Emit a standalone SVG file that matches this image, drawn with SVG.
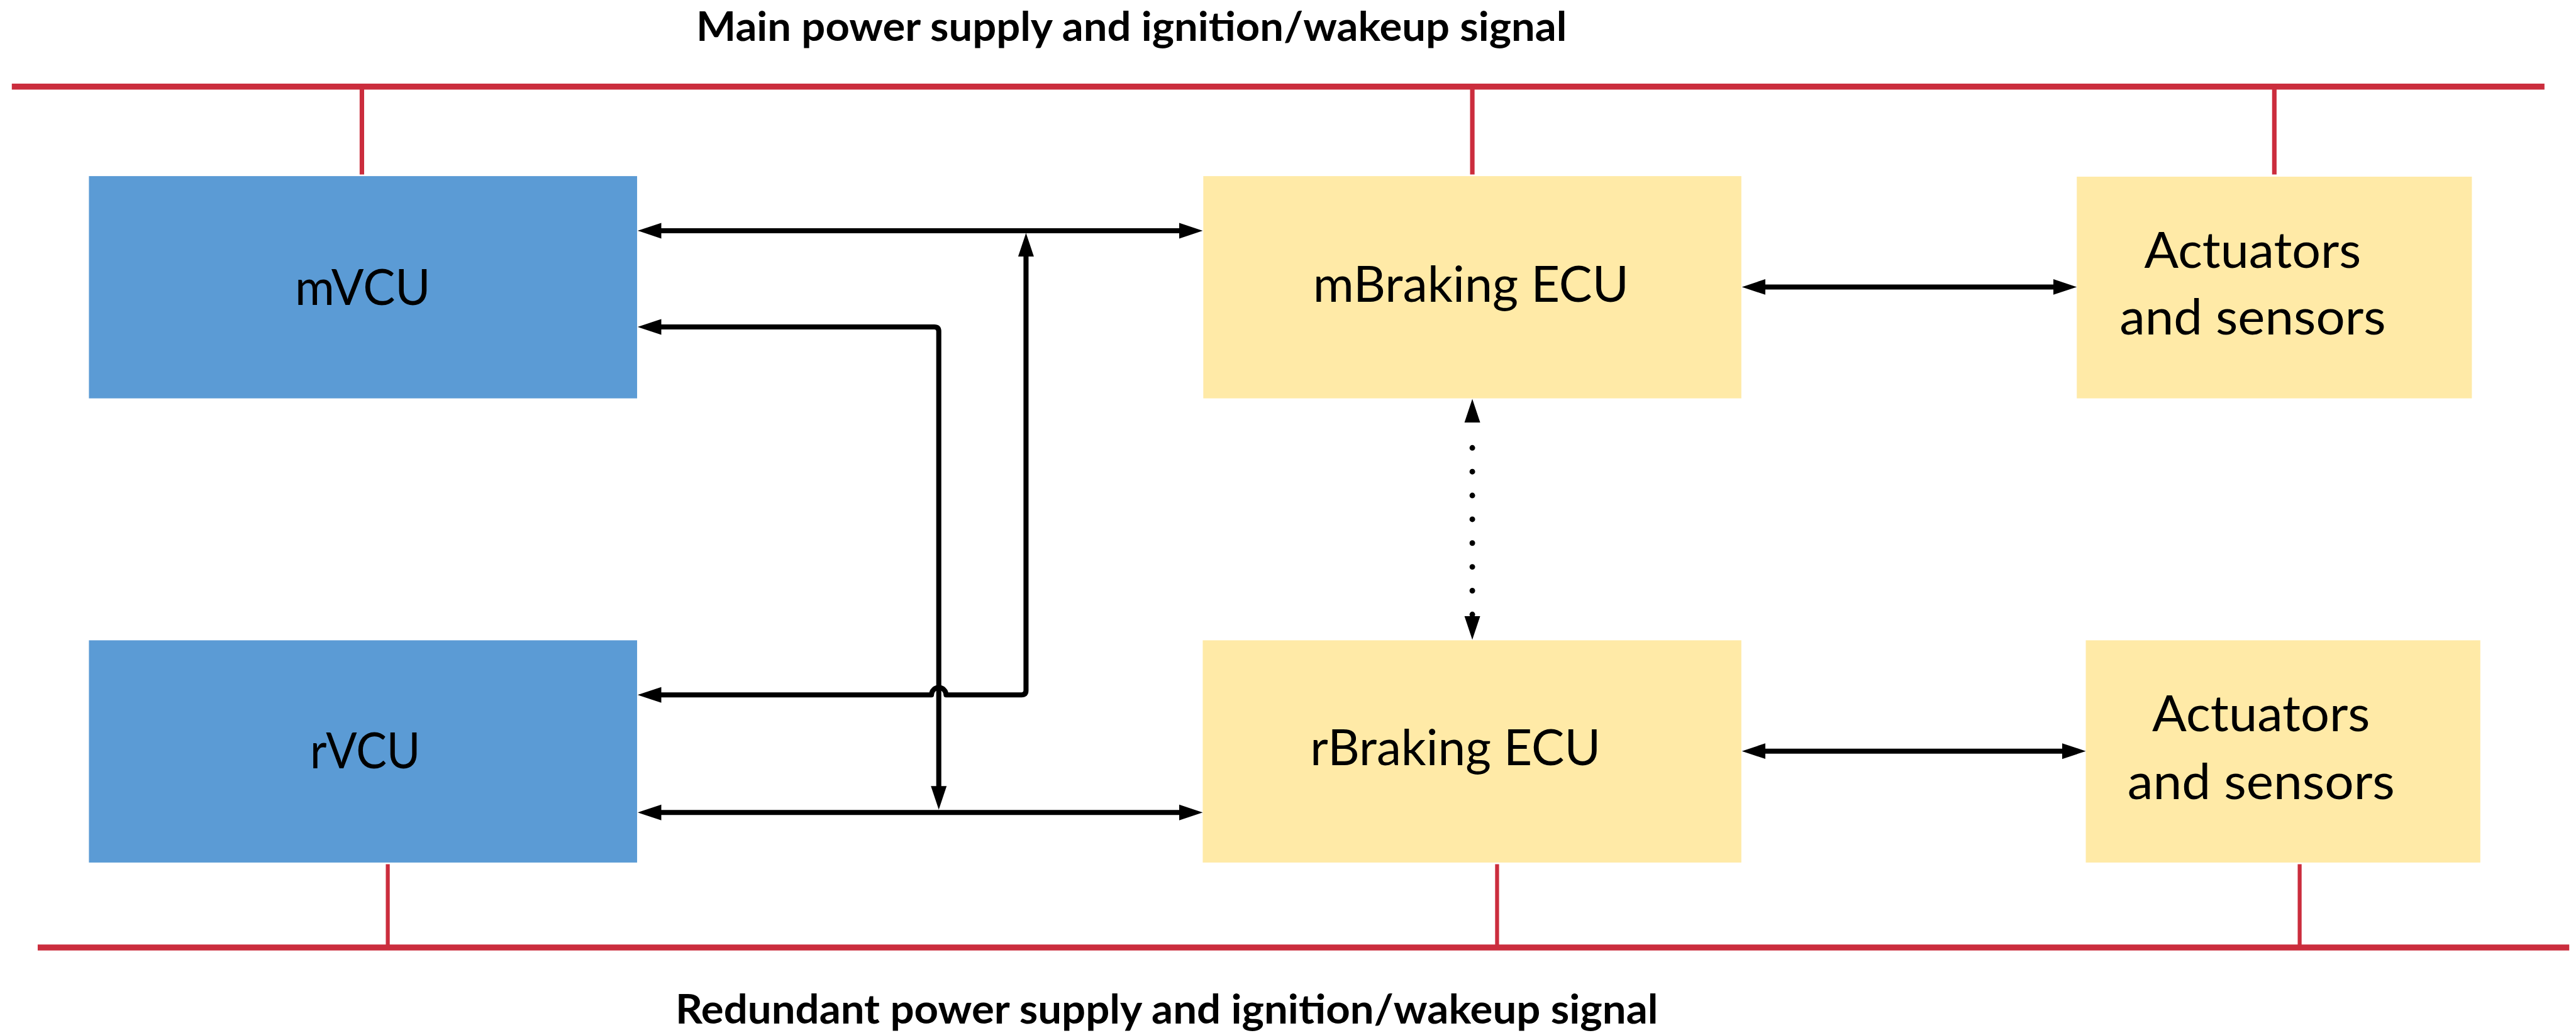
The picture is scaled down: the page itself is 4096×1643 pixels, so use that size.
<svg xmlns="http://www.w3.org/2000/svg" width="4096" height="1643" viewBox="0 0 4096 1643">
<style>
.bus{stroke:#CB2D3D;stroke-width:10.5;fill:none}
.drop{stroke:#CB2D3D;stroke-width:8;fill:none}
.dropb{stroke:#CB2D3D;stroke-width:7;fill:none}
.blue{fill:#5B9BD5}
.yel{fill:#FFEAA7}
.lbl{font-family:Lato,"Liberation Sans",sans-serif;font-size:89px;fill:#000}
.ttl{font-family:Lato,"Liberation Sans",sans-serif;font-weight:bold;font-size:72px;fill:#000}
.con{stroke:#000;stroke-width:9;fill:none;stroke-linejoin:round;marker-start:url(#ah);marker-end:url(#ah)}
.dots{stroke:#000;stroke-width:10;fill:none;stroke-linecap:round;stroke-dasharray:0 42.3}
</style>
<defs>
<marker id="ah" markerUnits="userSpaceOnUse" viewBox="0 -16 46 32" markerWidth="46" markerHeight="32" refX="2" refY="0" orient="auto-start-reverse">
<path d="M0,-14 L42,0 L0,14 z" fill="#000"/>
</marker>
</defs>
<rect width="4096" height="1643" fill="#fff"/>
<g transform="scale(0.894909)">
<g id="power-lines">
<line class="bus" x1="21" y1="154" x2="4521" y2="154"/>
<line class="bus" x1="67" y1="1684" x2="4565" y2="1684"/>
<line class="drop" x1="643" y1="154" x2="643" y2="310"/>
<line class="drop" x1="2616" y1="154" x2="2616" y2="310"/>
<line class="drop" x1="4041" y1="154" x2="4041" y2="310"/>
<line class="dropb" x1="689" y1="1536" x2="689" y2="1684"/>
<line class="dropb" x1="2660" y1="1536" x2="2660" y2="1684"/>
<line class="dropb" x1="4086" y1="1536" x2="4086" y2="1684"/>
</g>
<g id="titles">
<text class="ttl" x="1237" y="73" textLength="1547" lengthAdjust="spacingAndGlyphs">Main power supply and ignition/wakeup signal</text>
<text class="ttl" x="1200" y="1819" textLength="1746" lengthAdjust="spacingAndGlyphs">Redundant power supply and ignition/wakeup signal</text>
</g>
<g id="mVCU">
<rect class="blue" x="158" y="313" width="974" height="395"/>
<text class="lbl" x="524" y="542" textLength="241" lengthAdjust="spacingAndGlyphs">mVCU</text>
</g>
<g id="rVCU">
<rect class="blue" x="158" y="1138" width="974" height="395"/>
<text class="lbl" x="551" y="1366" textLength="196" lengthAdjust="spacingAndGlyphs">rVCU</text>
</g>
<g id="mBraking">
<rect class="yel" x="2138" y="313" width="956" height="395"/>
<text class="lbl" x="2333" y="536" textLength="561" lengthAdjust="spacingAndGlyphs">mBraking ECU</text>
</g>
<g id="rBraking">
<rect class="yel" x="2137" y="1138" width="957" height="395"/>
<text class="lbl" x="2328" y="1360" textLength="516" lengthAdjust="spacingAndGlyphs">rBraking ECU</text>
</g>
<g id="actuators-main">
<rect class="yel" x="3690" y="314" width="702" height="394"/>
<text class="lbl" x="3810" y="476" textLength="385" lengthAdjust="spacingAndGlyphs">Actuators</text>
<text class="lbl" x="3766" y="594" textLength="473" lengthAdjust="spacingAndGlyphs">and sensors</text>
</g>
<g id="actuators-redundant">
<rect class="yel" x="3706" y="1138" width="701" height="395"/>
<text class="lbl" x="3824" y="1300" textLength="387" lengthAdjust="spacingAndGlyphs">Actuators</text>
<text class="lbl" x="3780" y="1420" textLength="475" lengthAdjust="spacingAndGlyphs">and sensors</text>
</g>
<g id="connectors">
<path class="con" d="M1173 410 H2097"/>
<path class="con" d="M1173 1444 H2097"/>
<path class="con" d="M3135 510 H3650"/>
<path class="con" d="M3135 1335 H3666"/>
<path class="con" d="M1173 1235 H1655 A13 13 0 0 1 1681 1235 H1815 Q1823 1235 1823 1227 V454"/>
<path class="con" d="M1173 581 H1660 Q1668 581 1668 589 V1399"/>
<path class="con" d="M2616 749 V1097" style="stroke:none"/>
<path class="dots" d="M2616 796 V1093"/>
</g>
</g>
</svg>
